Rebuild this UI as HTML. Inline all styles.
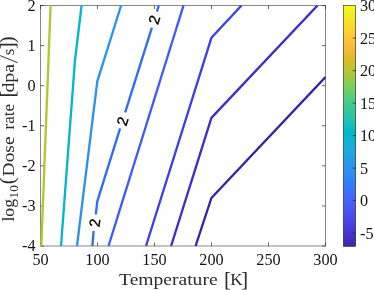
<!DOCTYPE html>
<html><head><meta charset="utf-8"><title>Contour plot</title>
<style>
html,body{margin:0;padding:0;background:#fff;}
body{width:374px;height:290px;position:relative;overflow:hidden;font-family:"Liberation Serif",serif;}
</style></head><body>
<svg width="374" height="290" viewBox="0 0 374 290" style="position:absolute;left:0;top:0;will-change:transform">
<defs><linearGradient id="cb" x1="0" y1="0" x2="0" y2="1"><stop offset="0.00%" stop-color="#f9fb15"/><stop offset="1.59%" stop-color="#f7f51b"/><stop offset="3.17%" stop-color="#f6ef20"/><stop offset="4.76%" stop-color="#f5e924"/><stop offset="6.35%" stop-color="#f5e327"/><stop offset="7.94%" stop-color="#f7dc2a"/><stop offset="9.52%" stop-color="#fad62d"/><stop offset="11.11%" stop-color="#fccf30"/><stop offset="12.70%" stop-color="#fec934"/><stop offset="14.29%" stop-color="#fec338"/><stop offset="15.87%" stop-color="#febe3c"/><stop offset="17.46%" stop-color="#f8ba3d"/><stop offset="19.05%" stop-color="#f0ba36"/><stop offset="20.63%" stop-color="#e6bb2d"/><stop offset="22.22%" stop-color="#dcbd29"/><stop offset="23.81%" stop-color="#d1bf27"/><stop offset="25.40%" stop-color="#c5c22a"/><stop offset="26.98%" stop-color="#b9c431"/><stop offset="28.57%" stop-color="#abc739"/><stop offset="30.16%" stop-color="#9dc943"/><stop offset="31.75%" stop-color="#8fcb4e"/><stop offset="33.33%" stop-color="#81cc59"/><stop offset="34.92%" stop-color="#72cd64"/><stop offset="36.51%" stop-color="#64cd6f"/><stop offset="38.10%" stop-color="#57cc7a"/><stop offset="39.68%" stop-color="#4acb84"/><stop offset="41.27%" stop-color="#3fca8e"/><stop offset="42.86%" stop-color="#37c897"/><stop offset="44.44%" stop-color="#31c69f"/><stop offset="46.03%" stop-color="#2cc4a7"/><stop offset="47.62%" stop-color="#24c1ae"/><stop offset="49.21%" stop-color="#19bfb6"/><stop offset="50.79%" stop-color="#0bbdbd"/><stop offset="52.38%" stop-color="#02bac3"/><stop offset="53.97%" stop-color="#01b8ca"/><stop offset="55.56%" stop-color="#08b5d0"/><stop offset="57.14%" stop-color="#12b1d6"/><stop offset="58.73%" stop-color="#18addb"/><stop offset="60.32%" stop-color="#1ca9df"/><stop offset="61.90%" stop-color="#20a5e3"/><stop offset="63.49%" stop-color="#23a0e5"/><stop offset="65.08%" stop-color="#259be8"/><stop offset="66.67%" stop-color="#2797eb"/><stop offset="68.25%" stop-color="#2b91ef"/><stop offset="69.84%" stop-color="#2d8cf3"/><stop offset="71.43%" stop-color="#2e87f7"/><stop offset="73.02%" stop-color="#2f81fa"/><stop offset="74.60%" stop-color="#327cfc"/><stop offset="76.19%" stop-color="#3875fe"/><stop offset="77.78%" stop-color="#3e6fff"/><stop offset="79.37%" stop-color="#4269fe"/><stop offset="80.95%" stop-color="#4563fd"/><stop offset="82.54%" stop-color="#465efb"/><stop offset="84.13%" stop-color="#4758f8"/><stop offset="85.71%" stop-color="#4852f4"/><stop offset="87.30%" stop-color="#484df0"/><stop offset="88.89%" stop-color="#4747eb"/><stop offset="90.48%" stop-color="#4741e5"/><stop offset="92.06%" stop-color="#463cde"/><stop offset="93.65%" stop-color="#4537d5"/><stop offset="95.24%" stop-color="#4332cb"/><stop offset="96.83%" stop-color="#422ec0"/><stop offset="98.41%" stop-color="#402ab4"/><stop offset="100.00%" stop-color="#3e26a8"/></linearGradient>
<clipPath id="axc"><rect x="40.0" y="5.0" width="286.0" height="241.5"/></clipPath></defs>
<rect x="343.3" y="5.3" width="12.399999999999977" height="241.1" fill="url(#cb)"/>
<g stroke="#262626" stroke-width="0.55" fill="none">
<rect x="40.5" y="5.5" width="285.0" height="240.5"/>
<path d="M40.50 246.0 V242.5 M40.50 5.5 V9.0" stroke-width="0.7"/>
<path d="M97.50 246.0 V242.5 M97.50 5.5 V9.0" stroke-width="0.7"/>
<path d="M154.50 246.0 V242.5 M154.50 5.5 V9.0" stroke-width="0.7"/>
<path d="M211.50 246.0 V242.5 M211.50 5.5 V9.0" stroke-width="0.7"/>
<path d="M268.50 246.0 V242.5 M268.50 5.5 V9.0" stroke-width="0.7"/>
<path d="M325.50 246.0 V242.5 M325.50 5.5 V9.0" stroke-width="0.7"/>
<path d="M40.5 246.00 H44.0 M325.5 246.00 H322.0" stroke-width="0.7"/>
<path d="M40.5 205.92 H44.0 M325.5 205.92 H322.0" stroke-width="0.7"/>
<path d="M40.5 165.83 H44.0 M325.5 165.83 H322.0" stroke-width="0.7"/>
<path d="M40.5 125.75 H44.0 M325.5 125.75 H322.0" stroke-width="0.7"/>
<path d="M40.5 85.67 H44.0 M325.5 85.67 H322.0" stroke-width="0.7"/>
<path d="M40.5 45.58 H44.0 M325.5 45.58 H322.0" stroke-width="0.7"/>
<path d="M40.5 5.50 H44.0 M325.5 5.50 H322.0" stroke-width="0.7"/>
</g>
<g stroke="#262626" stroke-width="0.6" fill="none">
<rect x="343.3" y="5.3" width="12.399999999999977" height="241.1"/>
<path d="M355.7 38.10 H352.9" stroke-width="0.8"/>
<path d="M355.7 70.60 H352.9" stroke-width="0.8"/>
<path d="M355.7 103.10 H352.9" stroke-width="0.8"/>
<path d="M355.7 135.60 H352.9" stroke-width="0.8"/>
<path d="M355.7 168.10 H352.9" stroke-width="0.8"/>
<path d="M355.7 200.60 H352.9" stroke-width="0.8"/>
<path d="M355.7 233.10 H352.9" stroke-width="0.8"/>
</g>
<g clip-path="url(#axc)" fill="none" stroke-width="2.35" stroke-linejoin="round" stroke-linecap="butt">
<path d="M41.3 246.0 L50.6 5.5" stroke="#b8c431"/>
<path d="M61.0 246.0 L75.0 60.0 L81.6 5.5" stroke="#01b8ca"/>
<path d="M77.0 246.0 L97.3 81.4 L121.1 5.5" stroke="#2994ed"/>
<path d="M92.4 246.0 L93.6 231.0" stroke="#306bfa"/>
<path d="M95.8 214.3 L97.3 201.4 L120.1 128.3" stroke="#306bfa"/>
<path d="M125.2 112.3 L151.9 27.6" stroke="#306bfa"/>
<path d="M156.9 11.6 L158.8 5.5" stroke="#306bfa"/>
<path d="M108.5 246.0 L183.5 5.5" stroke="#3e59f8"/>
<path d="M146.0 246.0 L211.4 37.8 L241.5 5.5" stroke="#3f3fe6"/>
<path d="M171.1 246.0 L211.4 117.9 L317.5 5.5" stroke="#3d2ecb"/>
<path d="M195.6 246.0 L211.4 198.0 L325.5 77.0" stroke="#3722a5"/>
</g>
<text x="0" y="0" transform="translate(154.5,19.8) rotate(-72.7)" font-family="Liberation Sans, sans-serif" font-size="14.9" text-anchor="middle" dominant-baseline="central" fill="#000" stroke="#000" stroke-width="0.35">2</text>
<text x="0" y="0" transform="translate(122.8,121.2) rotate(-72.7)" font-family="Liberation Sans, sans-serif" font-size="14.9" text-anchor="middle" dominant-baseline="central" fill="#000" stroke="#000" stroke-width="0.35">2</text>
<text x="0" y="0" transform="translate(95.0,222.8) rotate(-84)" font-family="Liberation Sans, sans-serif" font-size="14.9" text-anchor="middle" dominant-baseline="central" fill="#000" stroke="#000" stroke-width="0.35">2</text>
<g font-family="Liberation Serif, serif" font-size="16.2" fill="#151515">
<text x="40.50" y="265.3" text-anchor="middle">50</text>
<text x="97.50" y="265.3" text-anchor="middle">100</text>
<text x="154.50" y="265.3" text-anchor="middle">150</text>
<text x="211.50" y="265.3" text-anchor="middle">200</text>
<text x="268.50" y="265.3" text-anchor="middle">250</text>
<text x="325.50" y="265.3" text-anchor="middle">300</text>
<text x="35.5" y="251.45" text-anchor="end">-4</text>
<text x="35.5" y="211.37" text-anchor="end">-3</text>
<text x="35.5" y="171.28" text-anchor="end">-2</text>
<text x="35.5" y="131.20" text-anchor="end">-1</text>
<text x="35.5" y="91.12" text-anchor="end">0</text>
<text x="35.5" y="51.03" text-anchor="end">1</text>
<text x="35.5" y="10.95" text-anchor="end">2</text>
<text x="360.0" y="11.05" text-anchor="start">30</text>
<text x="360.0" y="43.55" text-anchor="start">25</text>
<text x="360.0" y="76.05" text-anchor="start">20</text>
<text x="360.0" y="108.55" text-anchor="start">15</text>
<text x="360.0" y="141.05" text-anchor="start">10</text>
<text x="360.0" y="173.55" text-anchor="start">5</text>
<text x="360.0" y="206.05" text-anchor="start">0</text>
<text x="360.0" y="238.55" text-anchor="start">-5</text>
</g>
<g font-family="Liberation Serif, serif" fill="#2b2b2b" transform="translate(0,285.3)">
<text x="119.1" y="0" font-size="17" textLength="98.5" lengthAdjust="spacingAndGlyphs">Temperature</text>
<text x="227.6" y="0.7" font-size="21.5" text-anchor="middle">[</text>
<text x="236.3" y="0" font-size="17" text-anchor="middle">K</text>
<text x="244.6" y="0.7" font-size="21.5" text-anchor="middle">]</text>
</g>
<g font-family="Liberation Serif, serif" fill="#2b2b2b" transform="translate(13.5,221.6) rotate(-90)">
<text x="0" y="0" font-size="17" textLength="22.6" lengthAdjust="spacingAndGlyphs">log</text>
<text x="23.2" y="4.1" font-size="13.2" textLength="13.4" lengthAdjust="spacingAndGlyphs">10</text>
<text x="40.7" y="0.4" font-size="20.6" text-anchor="middle">(</text>
<text x="45.2" y="0" font-size="17" textLength="40.0" lengthAdjust="spacingAndGlyphs">Dose</text>
<text x="92.2" y="0" font-size="17" textLength="25.4" lengthAdjust="spacingAndGlyphs">rate</text>
<text x="127.6" y="0.4" font-size="21.0" text-anchor="middle">[</text>
<text x="143.35" y="0" font-size="17" text-anchor="middle" textLength="28.6" lengthAdjust="spacingAndGlyphs">dpa</text>
<path d="M158.9 4.1 L166.0 -13.4" stroke="#2b2b2b" stroke-width="0.95" fill="none"/>
<text x="169.65" y="0" font-size="17" text-anchor="middle">s</text>
<text x="175.8" y="0.4" font-size="21.0" text-anchor="middle">]</text>
<text x="181.8" y="0.4" font-size="20.6" text-anchor="middle">)</text>
</g>
</svg>
</body></html>
